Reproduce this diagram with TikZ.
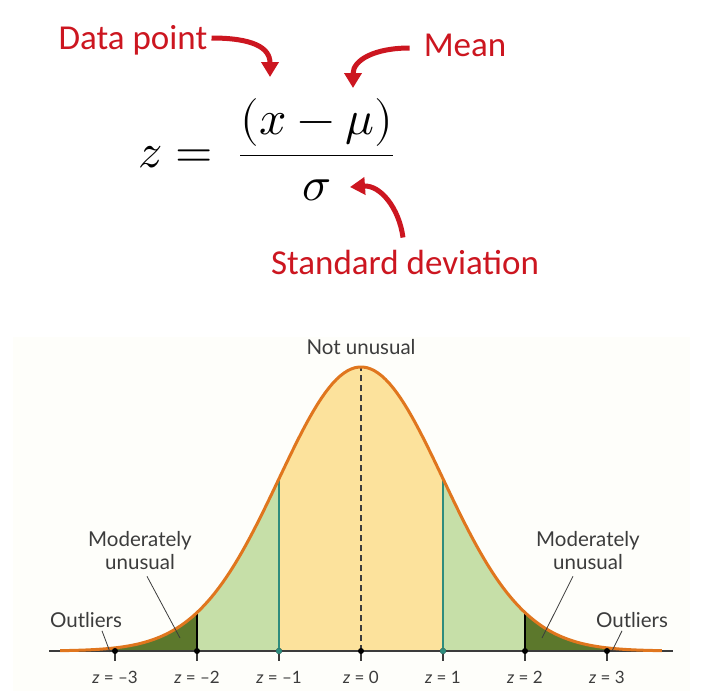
\documentclass[tikz,border=0pt]{standalone}
\usepackage{fontspec}
\usepackage{unicode-math}
\setmainfont{Lato}
\newfontfamily\calfont{Carlito}
\usetikzlibrary{arrows.meta}
\definecolor{callred}{RGB}{204,22,32}
\definecolor{bellorange}{RGB}{224,118,30}
\definecolor{midyellow}{RGB}{252,226,156}
\definecolor{lightgreen}{RGB}{198,223,168}
\definecolor{darkgreen}{RGB}{92,120,44}
\definecolor{tealline}{RGB}{46,140,125}
\definecolor{labelgray}{RGB}{60,60,60}
\definecolor{panelcream}{RGB}{254,254,250}
\tikzset{
  callout/.style={font=\calfont\fontsize{35}{40}\selectfont, text=callred, inner sep=0pt},
  callarrow/.style={draw=callred, line width=5pt, -{Triangle[length=15pt,width=17pt]}},
  region/.style={font=\fontsize{20.5}{23}\selectfont, text=labelgray, align=center, inner sep=0pt},
  zlabel/.style={font=\fontsize{17}{19}\selectfont, text=labelgray, inner sep=0pt},
  leader/.style={draw=labelgray, line width=0.8pt},
  zdot/.style={circle, fill=black, inner sep=0pt, minimum size=6pt},
}
\begin{document}
\begin{tikzpicture}[x=1pt,y=-1pt]
	\useasboundingbox (0,0) rectangle (702,691);
	\fill[panelcream] (13,337) rectangle (690,691);
	%Formula:
	\path
		(266,150) node[inner sep=0pt] (zf) {\fontsize{48}{52}\selectfont$z=\;\dfrac{(x-\mu)}{\sigma}$}
		(133,40) node[callout] (dp) {Data point}
		(465,45) node[callout] (mn) {Mean}
		(405,262) node[callout] (sd) {Standard deviation};
	\coordinate (xtip) at (270,77);
	\coordinate (mutip) at (353,88);
	\coordinate (sigtip) at (350,187);
	\draw[callarrow] ([xshift=4pt,yshift=2pt]dp.east) .. controls +(40,0) and +(0,-30) .. (xtip);
	\draw[callarrow] ([xshift=-14pt,yshift=-3pt]mn.west) .. controls +(-35,0) and +(0,-28) .. (mutip);
	\draw[callarrow] ([xshift=-2pt,yshift=12pt]sd.north) .. controls +(-4,-30) and +(30,-2) .. (sigtip);
	%Bell curve:
	\begin{scope}[shift={(361,651)}, x=82pt, y=284pt]
		\fill[midyellow] plot[domain=-1:1, samples=60] (\x,{exp(-0.5*\x*\x)}) -- (1,0) -- (-1,0) -- cycle;
		\fill[lightgreen] plot[domain=-2:-1, samples=30] (\x,{exp(-0.5*\x*\x)}) -- (-1,0) -- (-2,0) -- cycle;
		\fill[lightgreen] plot[domain=1:2, samples=30] (\x,{exp(-0.5*\x*\x)}) -- (2,0) -- (1,0) -- cycle;
		\fill[darkgreen] plot[domain=-3.67:-2, samples=40] (\x,{exp(-0.5*\x*\x)}) -- (-2,0) -- (-3.67,0) -- cycle;
		\fill[darkgreen] plot[domain=2:3.67, samples=40] (\x,{exp(-0.5*\x*\x)}) -- (3.67,0) -- (2,0) -- cycle;
		\draw[tealline, line width=1.6pt] (-1,0) -- (-1,{exp(-0.5)});
		\draw[tealline, line width=1.6pt] (1,0) -- (1,{exp(-0.5)});
		\draw[black, line width=1.6pt] (-2,0) -- (-2,{exp(-2)});
		\draw[black, line width=1.6pt] (2,0) -- (2,{exp(-2)});
		\draw[labelgray, line width=1.4pt, dash pattern=on 6pt off 4pt] (0,0) -- (0,1);
		\draw[labelgray, line width=1.3pt] (-3.8,0) -- (3.8,0);
		\draw[bellorange, line width=3pt] plot[domain=-3.67:3.67, samples=160] (\x,{exp(-0.5*\x*\x)});
		\foreach \z/\t in {-3/–3,-2/–2,-1/–1,0/0,1/1,2/2,3/3} {
			\draw[labelgray, line width=1.3pt] (\z,0) -- (\z,-0.035);
			\node[zdot] (d\z) at (\z,0) {};
			\node[zlabel] (zl\z) at (\z,-0.092) {\textit{z} = \t};
		}
		\node[zdot, fill=tealline] at (-1,0) {};
		\node[zdot, fill=tealline] at (1,0) {};
	\end{scope}
	%Region labels:
	\path
		(361,347) node[region] (nu) {Not unusual}
		(140,551) node[region] (mul) {Moderately\\unusual}
		(588,551) node[region] (mur) {Moderately\\unusual}
		(86,620) node[region] (ol) {Outliers}
		(632,620) node[region] (or) {Outliers};
	\coordinate (mdl) at (180,638);
	\coordinate (mdr) at (542,638);
	\coordinate (otl) at (110,652);
	\coordinate (otr) at (612,651);
	\draw[leader] (mul.south) ++(7,6) -- (mdl);
	\draw[leader] (mur.south) ++(-15,6) -- (mdr);
	\draw[leader] (ol.south) ++(16,3) -- (otl);
	\draw[leader] (or.south) ++(-10,3) -- (otr);
\end{tikzpicture}
\end{document}
